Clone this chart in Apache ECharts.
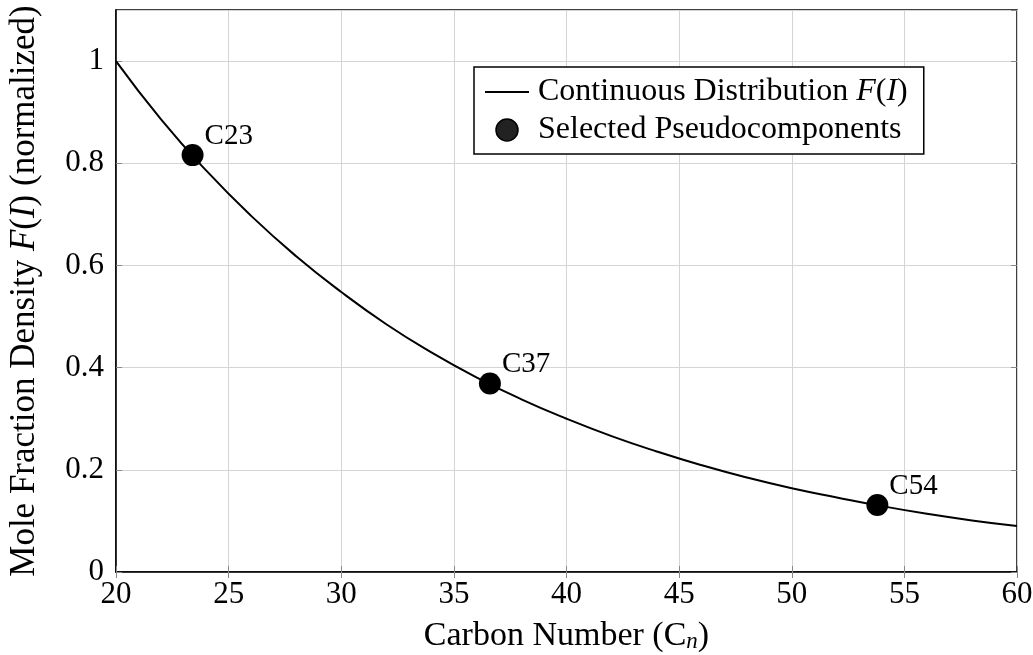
<!DOCTYPE html>
<html>
<head>
<meta charset="utf-8">
<script src="https://cdn.jsdelivr.net/npm/echarts@6/dist/echarts.min.js"></script>
<style>html,body{margin:0;padding:0;background:#fff}#c{width:1033px;height:655px}</style>
</head>
<body>
<div id="c"></div>
<script>
// Continuous distribution F(I)
const carbonNumbers = [20, 22, 24, 26, 28, 30, 32, 34, 36, 38, 40, 42, 44, 46, 48, 50, 52, 54, 56, 58, 60];
const densityValues = [1.000, 0.886, 0.786, 0.697, 0.618, 0.548, 0.485, 0.430, 0.381, 0.338, 0.300, 0.266, 0.236, 0.209, 0.185, 0.164, 0.146, 0.129, 0.114, 0.101, 0.090];
// Selected pseudocomponents
const pseudoX = [23.4, 36.6, 53.8];
const pseudoY = [0.816, 0.369, 0.131];
const pseudoLabels = ['C23', 'C37', 'C54'];
const xTicks = [20, 25, 30, 35, 40, 45, 50, 55, 60];
const yTicks = [0, 0.2, 0.4, 0.6, 0.8, 1];

const FONT = 'Liberation Serif';
const lineData = carbonNumbers.map((x, i) => [x, densityValues[i]]);
const pointData = pseudoX.map((x, i) => [x, pseudoY[i], pseudoLabels[i]]);

const chart = echarts.init(document.getElementById('c'));
chart.setOption({
  animation: false,
  backgroundColor: '#fff',
  textStyle: { fontFamily: FONT },
  grid: { left: 116, right: 16, top: 10, bottom: 83, containLabel: false, outerBoundsMode: 'none',
    show: true, borderColor: '#000', borderWidth: 1.5, backgroundColor: 'transparent' },
  legend: {
    left: 474, top: 67, orient: 'vertical',
    backgroundColor: '#fff', borderColor: '#000', borderWidth: 1.5, borderRadius: 0,
    padding: [9, 16, 8, 10], itemGap: 6, itemWidth: 44, itemHeight: 22,
    textStyle: { fontFamily: FONT, fontSize: 32, lineHeight: 30, color: '#000', padding: [0, 0, 0, 4],
      rich: { i: { fontFamily: FONT, fontStyle: 'italic', fontSize: 32, lineHeight: 30, color: '#000' } } },
    formatter: function (name) {
      if (name.indexOf('Continuous') === 0) return 'Continuous Distribution {i|F}({i|I})';
      return name;
    },
    data: [
      { name: 'Continuous Distribution F(I)', itemStyle: { color: 'rgba(0,0,0,0)', borderColor: 'rgba(0,0,0,0)', borderWidth: 0 }, lineStyle: { color: '#000', width: 2 } },
      { name: 'Selected Pseudocomponents', icon: 'circle', itemStyle: { color: '#222', borderColor: '#000', borderWidth: 1.5 } }
    ]
  },
  xAxis: [{
    type: 'value', min: 20, max: 60, interval: 5,
    name: 'Carbon Number (C{s|n})', nameLocation: 'middle', nameGap: 47,
    nameTextStyle: { fontFamily: FONT, fontSize: 34, lineHeight: 34, color: '#000',
      rich: { s: { fontFamily: FONT, fontStyle: 'italic', fontSize: 23, lineHeight: 23, color: '#000', padding: [11, 0, 0, 0] } } },
    axisLine: { show: true, lineStyle: { color: '#000', width: 1.5 } },
    axisTick: { show: true, inside: true, length: 6, lineStyle: { color: '#888' } },
    axisLabel: { fontFamily: FONT, fontSize: 31, color: '#000', margin: 7 },
    splitLine: { show: true, lineStyle: { color: '#d4d4d4', width: 1 } }
  }, {
    type: 'value', min: 20, max: 60, interval: 5, position: 'top',
    axisLine: { show: false }, axisLabel: { show: false }, splitLine: { show: false },
    axisTick: { show: true, inside: true, length: 6, lineStyle: { color: '#888' } }
  }],
  yAxis: [{
    type: 'value', min: 0, max: 1.1, interval: 0.2,
    name: 'Mole Fraction Density {i|F}({i|I}) (normalized)', nameLocation: 'middle', nameGap: 74,
    nameTextStyle: { fontFamily: FONT, fontSize: 35, lineHeight: 34, color: '#000',
      rich: { i: { fontFamily: FONT, fontStyle: 'italic', fontSize: 35, lineHeight: 34, color: '#000' } } },
    axisLine: { show: true, lineStyle: { color: '#000', width: 1.5 } },
    axisTick: { show: true, inside: true, length: 6, lineStyle: { color: '#888' } },
    axisLabel: { fontFamily: FONT, fontSize: 31, color: '#000', margin: 12, showMaxLabel: false,
      formatter: v => (yTicks.indexOf(Math.round(v * 10) / 10) >= 0 ? String(Math.round(v * 10) / 10) : '') },
    splitLine: { show: true, lineStyle: { color: '#d4d4d4', width: 1 } }
  }, {
    type: 'value', min: 0, max: 1.1, interval: 0.2, position: 'right',
    axisLine: { show: false }, axisLabel: { show: false }, splitLine: { show: false },
    axisTick: { show: true, inside: true, length: 6, lineStyle: { color: '#888' } }
  }],
  series: [{
    name: 'Continuous Distribution F(I)', type: 'line', data: lineData,
    smooth: true, symbol: 'none', lineStyle: { color: '#000', width: 2 }, itemStyle: { color: '#000' }, z: 3
  }, {
    name: 'Selected Pseudocomponents', type: 'scatter', data: pointData,
    symbol: 'circle', symbolSize: 22, itemStyle: { color: '#000', opacity: 1 }, z: 4,
    label: { show: true, position: 'right', distance: 1, offset: [0, -19], formatter: p => p.value[2],
      fontFamily: FONT, fontSize: 29, color: '#000' }
  }]
});
</script>
</body>
</html>
